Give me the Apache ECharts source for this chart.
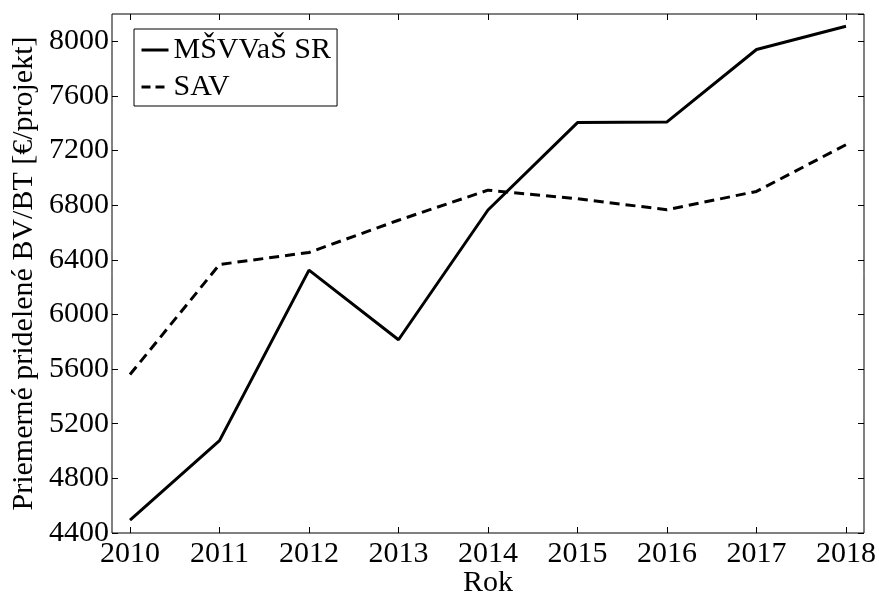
<!DOCTYPE html>
<html><head><meta charset="utf-8">
<script src="https://cdn.jsdelivr.net/npm/echarts@6/dist/echarts.min.js"></script>
<style>html,body{margin:0;padding:0;background:#fff}#c{width:879px;height:595px}</style>
</head><body><div id="c"></div>
<script>
const years = [2010, 2011, 2012, 2013, 2014, 2015, 2016, 2017, 2018];
const msvvas = [4495, 5076, 6325, 5815, 6765, 7405, 7410, 7940, 8110];
const sav = [5560, 6366, 6454, 6690, 6910, 6847, 6767, 6901, 7243];
const seriesNames = ['MŠVVaŠ SR', 'SAV'];
const xTitle = 'Rok';
const yTitle = 'Priemerné pridelené BV/BT [€/projekt]';

const FONT = 'Liberation Serif';
const chart = echarts.init(document.getElementById('c'), null, {renderer: 'canvas'});
const tickStyle = {show: true, inside: true, length: 6, lineStyle: {color: '#000', width: 1}};
const dash = [10, 6];
chart.setOption({
  animation: false,
  backgroundColor: '#fff',
  grid: [
    {left: 112, right: 15, top: 14, bottom: 62, show: true, borderColor: '#000', borderWidth: 1,
     backgroundColor: 'transparent', containLabel: false, outerBoundsMode: 'none'},
    {left: 130, right: 33, top: 14, bottom: 62, containLabel: false, outerBoundsMode: 'none'}
  ],
  legend: {
    orient: 'vertical', left: 134, top: 29,
    borderColor: '#000', borderWidth: 1, borderRadius: 0,
    padding: [6, 6, 4, 6], itemWidth: 27, itemHeight: 14, itemGap: 7,
    backgroundColor: '#fff',
    textStyle: {fontFamily: FONT, fontSize: 30, color: '#000'},
    data: [
      {name: seriesNames[0], itemStyle: {opacity: 0}, lineStyle: {color: '#000', width: 3, type: 'solid'}},
      {name: seriesNames[1], itemStyle: {opacity: 0}, lineStyle: {color: '#000', width: 3, type: [9, 5]}}
    ]
  },
  xAxis: [
    {gridIndex: 0, type: 'value', show: false, min: 0, max: 1},
    {gridIndex: 1, type: 'value', min: 2010, max: 2018, interval: 1, position: 'bottom',
     axisLine: {show: false}, axisTick: tickStyle, splitLine: {show: false},
     axisLabel: {fontFamily: FONT, fontSize: 30, color: '#000', margin: 6, formatter: v => String(v)},
     name: xTitle, nameLocation: 'middle', nameGap: 35, nameMoveOverlap: false,
     nameTextStyle: {fontFamily: FONT, fontSize: 30, color: '#000'}},
    {gridIndex: 1, type: 'value', min: 2010, max: 2018, interval: 1, position: 'top',
     axisLine: {show: false}, axisTick: tickStyle, splitLine: {show: false}, axisLabel: {show: false}}
  ],
  yAxis: [
    {gridIndex: 0, type: 'value', show: false, min: 0, max: 1},
    {gridIndex: 1, type: 'value', min: 4400, max: 8200, interval: 400, position: 'left', offset: 18,
     axisLine: {show: false}, axisTick: tickStyle, splitLine: {show: false},
     axisLabel: {fontFamily: FONT, fontSize: 30, color: '#000', margin: 3, showMaxLabel: false, formatter: v => String(v)},
     name: yTitle, nameLocation: 'middle', nameGap: 73, nameRotate: 90, nameMoveOverlap: false,
     nameTextStyle: {fontFamily: FONT, fontSize: 30, color: '#000'}},
    {gridIndex: 1, type: 'value', min: 4400, max: 8200, interval: 400, position: 'right', offset: 18,
     axisLine: {show: false}, axisTick: tickStyle, splitLine: {show: false}, axisLabel: {show: false}}
  ],
  series: [
    {name: seriesNames[0], type: 'line', xAxisIndex: 1, yAxisIndex: 1, symbol: 'none',
     lineStyle: {color: '#000', width: 3, type: 'solid'}, itemStyle: {color: '#000'},
     data: years.map((y, i) => [y, msvvas[i]])},
    {name: seriesNames[1], type: 'line', xAxisIndex: 1, yAxisIndex: 1, symbol: 'none',
     lineStyle: {color: '#000', width: 3, type: dash}, itemStyle: {color: '#000'},
     data: years.map((y, i) => [y, sav[i]])}
  ]
});
</script></body></html>
